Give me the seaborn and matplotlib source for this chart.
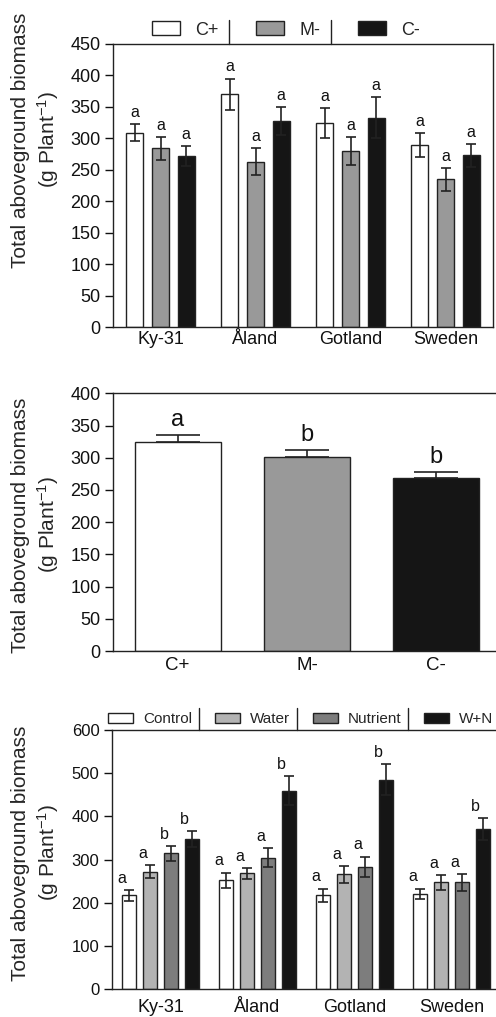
import matplotlib
matplotlib.use('Agg')
from matplotlib import pyplot as plt
from matplotlib.lines import Line2D
from matplotlib.container import BarContainer
import seaborn as sns
import pandas as pd
import numpy as np

sns.set_style('ticks')
plt.rcParams['font.family'] = ['Liberation Sans', 'DejaVu Sans']
plt.rcParams['mathtext.fontset'] = 'custom'
plt.rcParams['mathtext.rm'] = 'Liberation Sans'
plt.rcParams['mathtext.it'] = 'Liberation Sans:italic'
plt.rcParams['mathtext.bf'] = 'Liberation Sans:bold'

# panel 1: population x endophyte status
populations = ['Ky-31', 'Åland', 'Gotland', 'Sweden']
endophyte = ['C+', 'M-', 'C-']
endo_mean = [[309, 370, 324, 290],
             [284, 263, 280, 235],
             [272, 328, 333, 273]]
endo_err = [[14, 25, 24, 19],
            [18, 21, 22, 18],
            [16, 22, 32, 18]]
endo_letters = [['a', 'a', 'a', 'a'],
                ['a', 'a', 'a', 'a'],
                ['a', 'a', 'a', 'a']]

# panel 2: endophyte status overall
overall_mean = [324, 301, 268]
overall_err = [11, 11.5, 9.5]
overall_letters = ['a', 'b', 'b']

# panel 3: population x treatment
treatments = ['Control', 'Water', 'Nutrient', 'W+N']
treat_mean = [[217.5, 252, 217.5, 221],
              [271.5, 268, 266, 247.5],
              [315, 304.5, 284, 247.5],
              [348.5, 459.5, 485, 371]]
treat_err = [[13, 18, 15.5, 12],
             [15, 13, 20, 17],
             [17, 21.5, 23, 20],
             [18.5, 34, 36, 26]]
treat_letters = [['a', 'a', 'a', 'a'],
                 ['a', 'a', 'a', 'a'],
                 ['b', 'a', 'a', 'a'],
                 ['b', 'b', 'b', 'b']]

endo_colors = ['#ffffff', '#999999', '#151515']
treat_colors = ['#ffffff', '#b3b3b3', '#7d7d7d', '#151515']
EDGE = '#222222'
YLABEL = 'Total aboveground biomass\n(g Plant$^{-1}$)'


def long_table(groups, levels, means):
    rows = []
    for i, lev in enumerate(levels):
        for j, g in enumerate(groups):
            rows.append({'group': g, 'level': lev, 'value': means[i][j]})
    return pd.DataFrame(rows)


def add_errors(ax, errs, letters, capsize, upper_only, dx, dy, size):
    conts = [c for c in ax.containers if isinstance(c, BarContainer)]
    for i, cont in enumerate(conts):
        bars = sorted(cont.patches, key=lambda b: b.get_x())
        for j, b in enumerate(bars):
            x = b.get_x() + b.get_width() / 2
            h = b.get_height()
            e = errs[i][j]
            lower = 0 if upper_only else e
            ax.errorbar(x, h, yerr=[[lower], [e]], fmt='none', ecolor=EDGE,
                        elinewidth=1.2, capsize=capsize, capthick=1.2, zorder=3)
            ax.annotate(letters[i][j], (x, h + e), xytext=(dx, dy),
                        textcoords='offset points', ha='center', va='bottom',
                        fontsize=size, color='#111111')
    return conts


def style_axes(ax, ymax, step, right=True, xpad=3):
    ax.set_ylim(0, ymax)
    ax.set_yticks(np.arange(0, ymax + 1, step))
    ax.set_xlabel('')
    ax.set_ylabel('')
    for s in ['left', 'bottom', 'top', 'right']:
        ax.spines[s].set_color(EDGE)
        ax.spines[s].set_linewidth(1)
    ax.spines['right'].set_visible(right)
    ax.tick_params(axis='y', direction='out', length=6, width=1, labelsize=13,
                   pad=3, colors='#111111')
    ax.tick_params(axis='x', length=0, labelsize=13, pad=xpad, colors='#111111')


def add_separators(fig, leg, gap_px, top_px, bottom_px):
    fig.canvas.draw()
    r = fig.canvas.get_renderer()
    W, H = fig.bbox.width, fig.bbox.height
    for t in leg.get_texts()[:-1]:
        bb = t.get_window_extent(r)
        x = (bb.x1 + gap_px) / W
        fig.add_artist(Line2D([x, x], [1 - top_px / H, 1 - bottom_px / H],
                              color=EDGE, lw=1))


fig = plt.figure(figsize=(4.96, 10.17), dpi=100)
H = 1017.0
W = 496.0

# ---- panel 1
ax1 = fig.add_axes([113 / W, (H - 327) / H, 380 / W, 283 / H])
df1 = long_table(populations, endophyte, endo_mean)
sns.barplot(data=df1, x='group', y='value', hue='level', hue_order=endophyte,
            order=populations, palette=endo_colors, width=0.81, gap=0.34,
            edgecolor=EDGE, linewidth=1, errorbar=None, legend=False, ax=ax1)
conts1 = add_errors(ax1, endo_err, endo_letters, 3.5, False, 0, 3, 11.5)
style_axes(ax1, 450, 50, right=True, xpad=3)
ax1.set_xlim(-0.5, 3.5)
ax1.set_ylabel(YLABEL, fontsize=15, linespacing=1.25)
ax1.yaxis.set_label_coords(-0.137, 0.661)
leg1 = fig.legend([c.patches[0] for c in conts1], endophyte, loc='center left',
                  bbox_to_anchor=(152 / W, (H - 30) / H), ncol=3, frameon=False,
                  fontsize=13, handlelength=1.55, handleheight=0.78,
                  handletextpad=0.83, columnspacing=2.1, borderpad=0,
                  borderaxespad=0)

# ---- panel 2
ax2 = fig.add_axes([113 / W, (H - 651) / H, 388 / W, 257.7 / H])
df2 = pd.DataFrame({'level': endophyte, 'value': overall_mean})
sns.barplot(data=df2, x='level', y='value', hue='level', hue_order=endophyte,
            order=endophyte, palette=endo_colors, width=0.665, edgecolor=EDGE,
            linewidth=1, errorbar=None, legend=False, ax=ax2)
add_errors(ax2, [[e] for e in overall_err], [[l] for l in overall_letters],
           15.5, True, 0, 3, 17)
style_axes(ax2, 400, 50, right=False, xpad=4)
ax2.set_xlim(-0.5, 2.5)
ax2.tick_params(axis='x', labelsize=13.5)
ax2.set_ylabel(YLABEL, fontsize=15, linespacing=1.25)
ax2.yaxis.set_label_coords(-0.134, 0.489)

# ---- panel 3
ax3 = fig.add_axes([112 / W, (H - 989.3) / H, 388 / W, 259.3 / H])
df3 = long_table(populations, treatments, treat_mean)
sns.barplot(data=df3, x='group', y='value', hue='level', hue_order=treatments,
            order=populations, palette=treat_colors, width=0.86, gap=0.33,
            edgecolor=EDGE, linewidth=1, errorbar=None, legend=False, ax=ax3)
conts3 = add_errors(ax3, treat_err, treat_letters, 3.5, False, -5, 3, 11.5)
style_axes(ax3, 600, 100, right=False, xpad=7)
ax3.tick_params(axis='y', labelsize=12)
ax3.set_xlim(-0.5, 3.5)
ax3.set_ylabel(YLABEL, fontsize=15, linespacing=1.25)
ax3.yaxis.set_label_coords(-0.132, 0.526)
leg3 = fig.legend([c.patches[0] for c in conts3], treatments, loc='center left',
                  bbox_to_anchor=(108 / W, (H - 719) / H), ncol=4, frameon=False,
                  fontsize=11, handlelength=1.63, handleheight=0.65,
                  handletextpad=0.65, columnspacing=1.5, borderpad=0,
                  borderaxespad=0)

add_separators(fig, leg1, 11, 20, 44)
add_separators(fig, leg3, 7, 708, 730)

fig.savefig('out.png', dpi=100)
